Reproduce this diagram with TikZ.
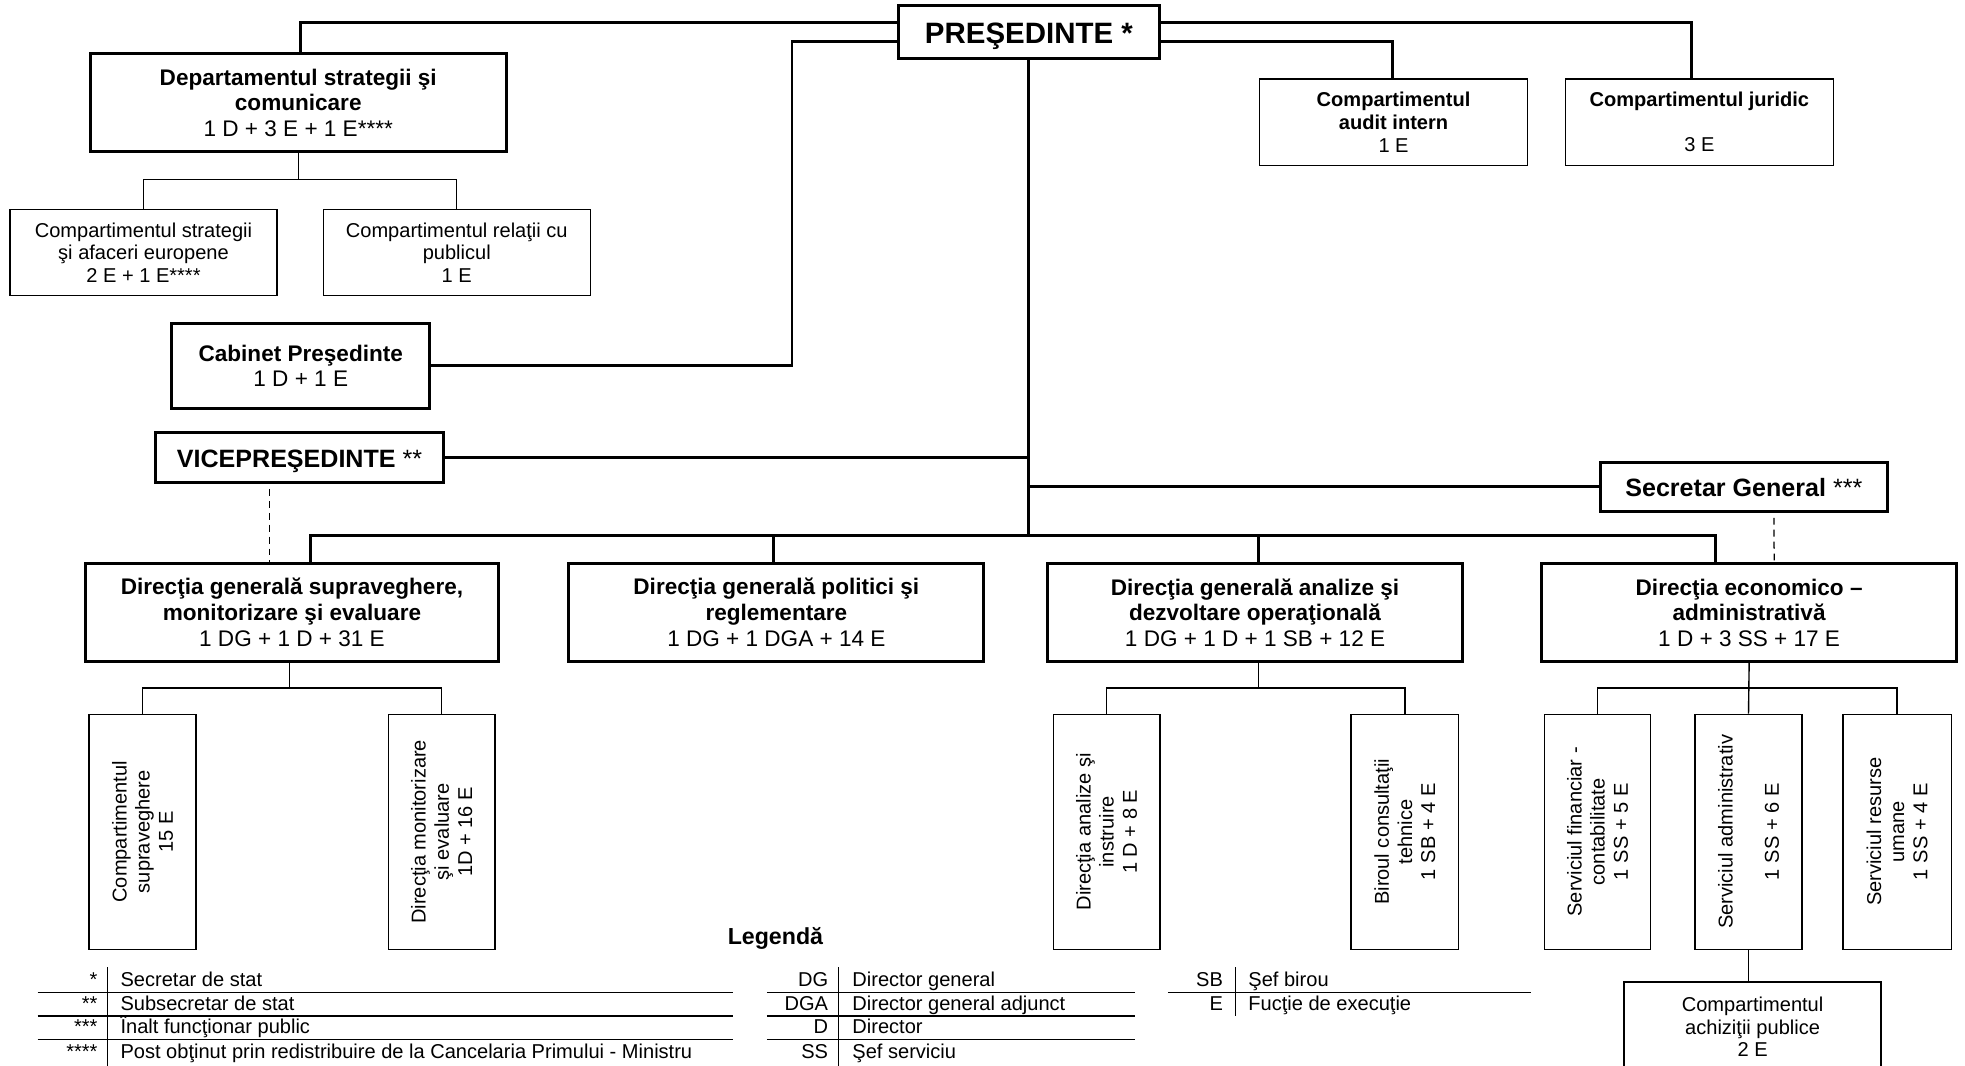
\documentclass[tikz,border=0pt]{standalone}
\usepackage{fontspec}
\setmainfont{Liberation Sans}
\begin{document}
\begin{tikzpicture}[x=1pt,y=-1pt,
  bigbox/.style={draw, line width=2.4pt, align=center, inner sep=0pt},
  smallbox/.style={draw, line width=1.1pt, align=center, inner sep=0pt},
  fbig/.style={font=\fontsize{18}{20.5}\selectfont},
  fsmall/.style={font=\fontsize{16}{18}\selectfont},
  rot/.style={rotate=90, align=center, inner sep=0pt, font=\fontsize{16}{18.5}\selectfont},
  conn/.style={line width=2.3pt},
  thinconn/.style={line width=1.1pt},
  dashconn/.style={line width=1pt, dash pattern=on 5.5pt off 4pt},
  leg/.style={font=\fontsize{16}{18}\selectfont, inner sep=0pt},
  legline/.style={line width=1pt}
]
\useasboundingbox (0,0) rectangle (1568,850);
\fill[white] (0,0) rectangle (1568,850);

% top level
\node[bigbox, minimum width=208pt, minimum height=43pt, text depth=0pt, font=\fontsize{23.5}{25}\selectfont\bfseries] (pres) at (821,25.5) {\raisebox{-1.5pt}{PREŞEDINTE *}};
\node[bigbox, fbig, minimum width=332pt, minimum height=78pt] (dept) at (238,82)
  {\textbf{Departamentul strategii şi}\\\textbf{comunicare}\\1 D + 3 E + 1 E****};
\node[smallbox, fsmall, minimum width=213pt, minimum height=69pt] (strat) at (114.5,201.5)
  {Compartimentul strategii\\şi afaceri europene\\2 E + 1 E****};
\node[smallbox, fsmall, minimum width=213pt, minimum height=69pt] (rel) at (364.5,201.5)
  {Compartimentul relaţii cu\\publicul\\1 E};
\node[bigbox, fbig, minimum width=206pt, minimum height=68pt] (cab) at (240,292)
  {\textbf{Cabinet Preşedinte}\\1 D + 1 E};
\node[smallbox, fsmall, minimum width=214pt, minimum height=69pt] (audit) at (1112,97.5)
  {\textbf{Compartimentul}\\\textbf{audit intern}\\1 E};
\node[smallbox, fsmall, minimum width=214pt, minimum height=69pt] (jur) at (1356,97.5)
  {\textbf{Compartimentul juridic}\\[18pt]3 E};
\node[bigbox, minimum width=230pt, minimum height=40pt, text depth=0pt, font=\fontsize{20}{22}\selectfont] (vice) at (239,365)
  {\raisebox{-1.5pt}{\textbf{VICEPREŞEDINTE} **}};
\node[bigbox, minimum width=229pt, minimum height=39pt, text depth=0pt, font=\fontsize{20}{22}\selectfont] (sec) at (1391.5,388.5)
  {\raisebox{-1.5pt}{\textbf{Secretar General} ***}};

% directions
\node[bigbox, fbig, minimum width=330pt, minimum height=77.5pt] (dir1) at (233,488.75)
  {\textbf{Direcţia generală supraveghere,}\\\textbf{monitorizare şi evaluare}\\1 DG + 1 D + 31 E};
\node[bigbox, fbig, minimum width=331pt, minimum height=77.5pt] (dir2) at (619.5,488.75)
  {\textbf{Direcţia generală politici şi}\\\textbf{reglementare}\\1 DG + 1 DGA + 14 E};
\node[bigbox, fbig, minimum width=331pt, minimum height=78pt] (dir3) at (1001.5,489)
  {\textbf{Direcţia generală analize şi}\\\textbf{dezvoltare operaţională}\\1 DG + 1 D + 1 SB + 12 E};
\node[bigbox, fbig, minimum width=331.5pt, minimum height=78pt] (dir4) at (1395.75,489)
  {\textbf{Direcţia economico –}\\\textbf{administrativă}\\1 D + 3 SS + 17 E};

% vertical sub boxes
\node[smallbox, minimum width=85.5pt, minimum height=187.5pt] (subA) at (113.75,663.75) {};
\node[rot] (subAt) at (subA.center) {Compartimentul\\supraveghere\\15 E};
\node[smallbox, minimum width=85pt, minimum height=187.5pt] (subB) at (352.5,663.75) {};
\node[rot] (subBt) at (subB.center) {Direcţia monitorizare\\şi evaluare\\1D + 16 E};
\node[smallbox, minimum width=85pt, minimum height=187.5pt] (subC) at (883,663.75) {};
\node[rot] (subCt) at (subC.center) {Direcţia analize şi\\instruire\\1 D + 8 E};
\node[smallbox, minimum width=86pt, minimum height=187.5pt] (subD) at (1121,663.75) {};
\node[rot] (subDt) at (subD.center) {Biroul consultaţii\\tehnice\\1 SB + 4 E};
\node[smallbox, minimum width=84.5pt, minimum height=187.5pt] (subE) at (1274.75,663.75) {};
\node[rot] (subEt) at (subE.center) {Serviciul financiar -\\contabilitate\\1 SS + 5 E};
\node[smallbox, minimum width=85.5pt, minimum height=187.5pt] (subF) at (1395.25,663.75) {};
\node[rot] (subFt) at (subF.center) {Serviciul administrativ\\[18.5pt]1 SS + 6 E};
\node[smallbox, minimum width=86.5pt, minimum height=187.5pt] (subG) at (1513.75,663.75) {};
\node[rot] (subGt) at (subG.center) {Serviciul resurse\\umane\\1 SS + 4 E};
\node[smallbox, fsmall, minimum width=205pt, minimum height=72pt] (subH) at (1398.5,819.5)
  {Compartimentul\\achiziţii publice\\2 E};

% connectors from president
\coordinate (cabj) at (632,292);
\coordinate (barL) at (248,427);
\coordinate (barR) at (1369,427);
\draw[conn] ([yshift=7.5pt]pres.west) -| ([xshift=2pt]dept.north);
\draw[conn] ([yshift=-7.5pt]pres.west) -| (cabj) -- (cab.east);
\draw[conn] ([yshift=7.5pt]pres.east) -| ([xshift=-6pt]jur.north);
\draw[conn] ([yshift=-7.5pt]pres.east) -| ([xshift=-1pt]audit.north);
\draw[conn] (pres.south) -- (pres.south |- barL);
\draw[conn] (vice.east) -- (vice.east -| pres.south);
\draw[conn] (sec.west) -- (sec.west -| pres.south);
\draw[conn] ([xshift=15pt]dir1.north) -- (barL) -- (barR) -- ([xshift=-26.75pt]dir4.north);
\draw[conn] ([xshift=-2.5pt]dir2.north) -- ([xshift=-2.5pt]dir2.north |- barL);
\draw[conn] ([xshift=2.5pt]dir3.north) -- ([xshift=2.5pt]dir3.north |- barL);
\draw[dashconn] ([xshift=-24pt,yshift=-4pt]vice.south) -- ([xshift=-18pt]dir1.north);
\draw[dashconn] ([xshift=24pt,yshift=-4pt]sec.south) -- ([xshift=20pt]dir4.north);

% sub connectors
\coordinate (dj) at (238,143);
\draw[thinconn] (dept.south) -- (dj);
\draw[thinconn] (strat.north) |- (dj) -| (rel.north);
\coordinate (d1j) at (231,549);
\draw[thinconn] ([xshift=-2pt]dir1.south) -- (d1j);
\draw[thinconn] (subA.north) |- (d1j) -| (subB.north);
\coordinate (d3j) at (1004,549);
\draw[thinconn] ([xshift=2.5pt]dir3.south) -- (d3j);
\draw[thinconn] (subC.north) |- (d3j) -| (subD.north);
\coordinate (d4j) at (1395.5,549);
\draw[thinconn] (dir4.south) -- (d4j);
\draw[thinconn] (subE.north) |- (d4j) -| (subG.north);
\draw[thinconn] (d4j) -- (subF.north);
\draw[thinconn] (subF.south) -- (subF.south |- subH.north);

% legend
\node[inner sep=0pt, anchor=base east, font=\fontsize{18.5}{20}\selectfont\bfseries] (legt) at (657,754) {Legendă};
\foreach \k/\t/\b [count=\i] in {*/Secretar de stat/787.5, **/Subsecretar de stat/806, ***/Înalt funcţionar public/824.5, ****/Post obţinut prin redistribuire de la Cancelaria Primului - Ministru/844.5}{
  \node[leg, anchor=base east] (la\i) at (78,\b) {\k};
  \node[leg, anchor=base west] (lb\i) at (96,\b) {\t};
}
\foreach \k/\t/\b [count=\i] in {DG/Director general/787.5, DGA/Director general adjunct/806, D/Director/824.5, SS/Şef serviciu/844.5}{
  \node[leg, anchor=base east] (lc\i) at (661,\b) {\k};
  \node[leg, anchor=base west] (ld\i) at (680,\b) {\t};
}
\foreach \k/\t/\b [count=\i] in {SB/Şef birou/787.5, E/Fucţie de execuţie/806}{
  \node[leg, anchor=base east] (le\i) at (976,\b) {\k};
  \node[leg, anchor=base west] (lf\i) at (996,\b) {\t};
}
\draw[legline] (86,772) -- (86,851);
\draw[legline] (669,772) -- (669,851);
\draw[legline] (986,772) -- (986,811);
\foreach \y/\w in {792/1pt,810.5/1.4pt,829.5/1pt}{
  \draw[legline, line width=\w] (30,\y) -- (585,\y);
  \draw[legline, line width=\w] (612,\y) -- (906,\y);
}
\draw[legline] (932,792) -- (1222,792);
\end{tikzpicture}
\end{document}
